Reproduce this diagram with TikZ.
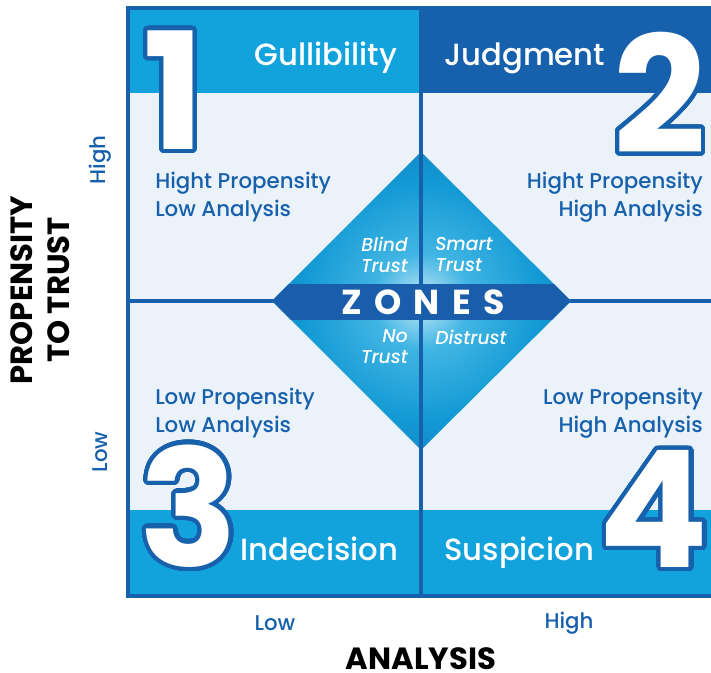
\documentclass[tikz,border=0pt]{standalone}
\usepackage{fontspec}
\setmainfont{Poppins}[UprightFont=* Medium,ItalicFont=* Medium Italic,BoldFont=* Bold]
\usepackage[copies]{contour}
\contourlength{3.2pt}
\contournumber{48}
\definecolor{navy}{HTML}{1760AC}
\definecolor{sky}{HTML}{12A3DC}
\definecolor{paleblue}{HTML}{EBF2FA}
\definecolor{zoneband}{HTML}{1A5DAA}
\pgfdeclareradialshading{zoneglow}{\pgfpoint{0bp}{0bp}}{color(0bp)=(white!75!sky); color(8bp)=(sky!80!white); color(20bp)=(sky!85!navy); color(36bp)=(navy!75!sky); color(50bp)=(navy)}

\begin{document}
\begin{tikzpicture}[x=0.75pt,y=-0.75pt]
\tikzset{every node/.style={inner sep=0pt},
  bandlabel/.style={text=white,font=\fontsize{23}{26}\selectfont},
  quadlabel/.style={text=navy,font=\fontsize{16}{21}\selectfont},
  zonelabel/.style={text=white,font=\fontsize{14}{15.8}\selectfont\itshape},
  bignum/.style={font=\fontsize{122}{122}\selectfont\bfseries},
  axislabel/.style={text=black,font=\fontsize{23}{28}\selectfont\bfseries,align=center},
  levellabel/.style={text=navy,font=\fontsize{16}{18}\selectfont}}
\useasboundingbox (0,0) rectangle (711,673);

% quadrants and bands
\fill[paleblue] (127,7) rectangle (711,597);
\fill[sky] (127,7) rectangle (421,93);
\fill[navy] (421,7) rectangle (711,93);
\fill[sky] (127,510) rectangle (711,597);
\draw[navy,line width=3.2pt] (128,8) rectangle (714,596);
\draw[navy,line width=3pt] (421,7) -- (421,597) (127,301) -- (711,301);

% zones diamond
\shade[shading=zoneglow] (421,152) -- (571,301) -- (421,450) -- (272,301) -- cycle;
\begin{scope}
\clip (421,152) -- (571,301) -- (421,450) -- (272,301) -- cycle;
\fill[zoneband] (272,284) rectangle (571,320);
\draw[navy,line width=3pt] (421,152) -- (421,450);
\end{scope}
\node[text=white,font=\fontsize{26}{26}\selectfont\bfseries\addfontfeature{LetterSpace=36}] (zones) at (423,302) {ZONES};
\node[zonelabel,anchor=north east,align=right] (blind) at (408,237) {Blind\\Trust};
\node[zonelabel,anchor=north west,align=left] (smart) at (435,237) {Smart\\Trust};
\node[zonelabel,anchor=north east,align=right] (notrust) at (408,329) {No\\Trust};
\node[zonelabel,anchor=north west,align=left] (distrust) at (435,330) {Distrust};

% big numbers
\node[bignum] (one) at (174,92) {\contour{navy}{\textcolor{white}{1}}};
\node[bignum] (two) at (660,95) {\contour{navy}{\textcolor{white}{2}}};
\node[bignum] (three) at (189,508) {\contour{navy}{\textcolor{white}{3}}};
\node[bignum] (four) at (654,511) {\contour{navy}{\textcolor{white}{4}}};

% band titles
\node[bandlabel,anchor=base] (gull) at (326,66) {Gullibility};
\node[bandlabel,anchor=base west] (judg) at (444,66) {Judgment};
\node[bandlabel,anchor=base west] (indec) at (240,561) {Indecision};
\node[bandlabel,anchor=base west] (susp) at (444,561) {Suspicion};

% quadrant texts
\node[quadlabel,anchor=north west,align=left] (q1) at (155,172) {Hight Propensity\\Low Analysis};
\node[quadlabel,anchor=north east,align=right] (q2) at (703,172) {Hight Propensity\\High Analysis};
\node[quadlabel,anchor=north west,align=left] (q3) at (155,388) {Low Propensity\\Low Analysis};
\node[quadlabel,anchor=north east,align=right] (q4) at (703,388) {Low Propensity\\High Analysis};

% axes
\node[levellabel,rotate=90] (yhigh) at (100,160) {High};
\node[levellabel,rotate=90] (ylow) at (100,452) {Low};
\node[axislabel,rotate=90] (ytitle) at (40,290) {PROPENSITY\\TO TRUST};
\node[levellabel] (xlow) at (275,623) {Low};
\node[levellabel] (xhigh) at (569,623) {High};
\node[axislabel,anchor=base] (xtitle) at (421,669) {ANALYSIS};
\end{tikzpicture}
\end{document}
